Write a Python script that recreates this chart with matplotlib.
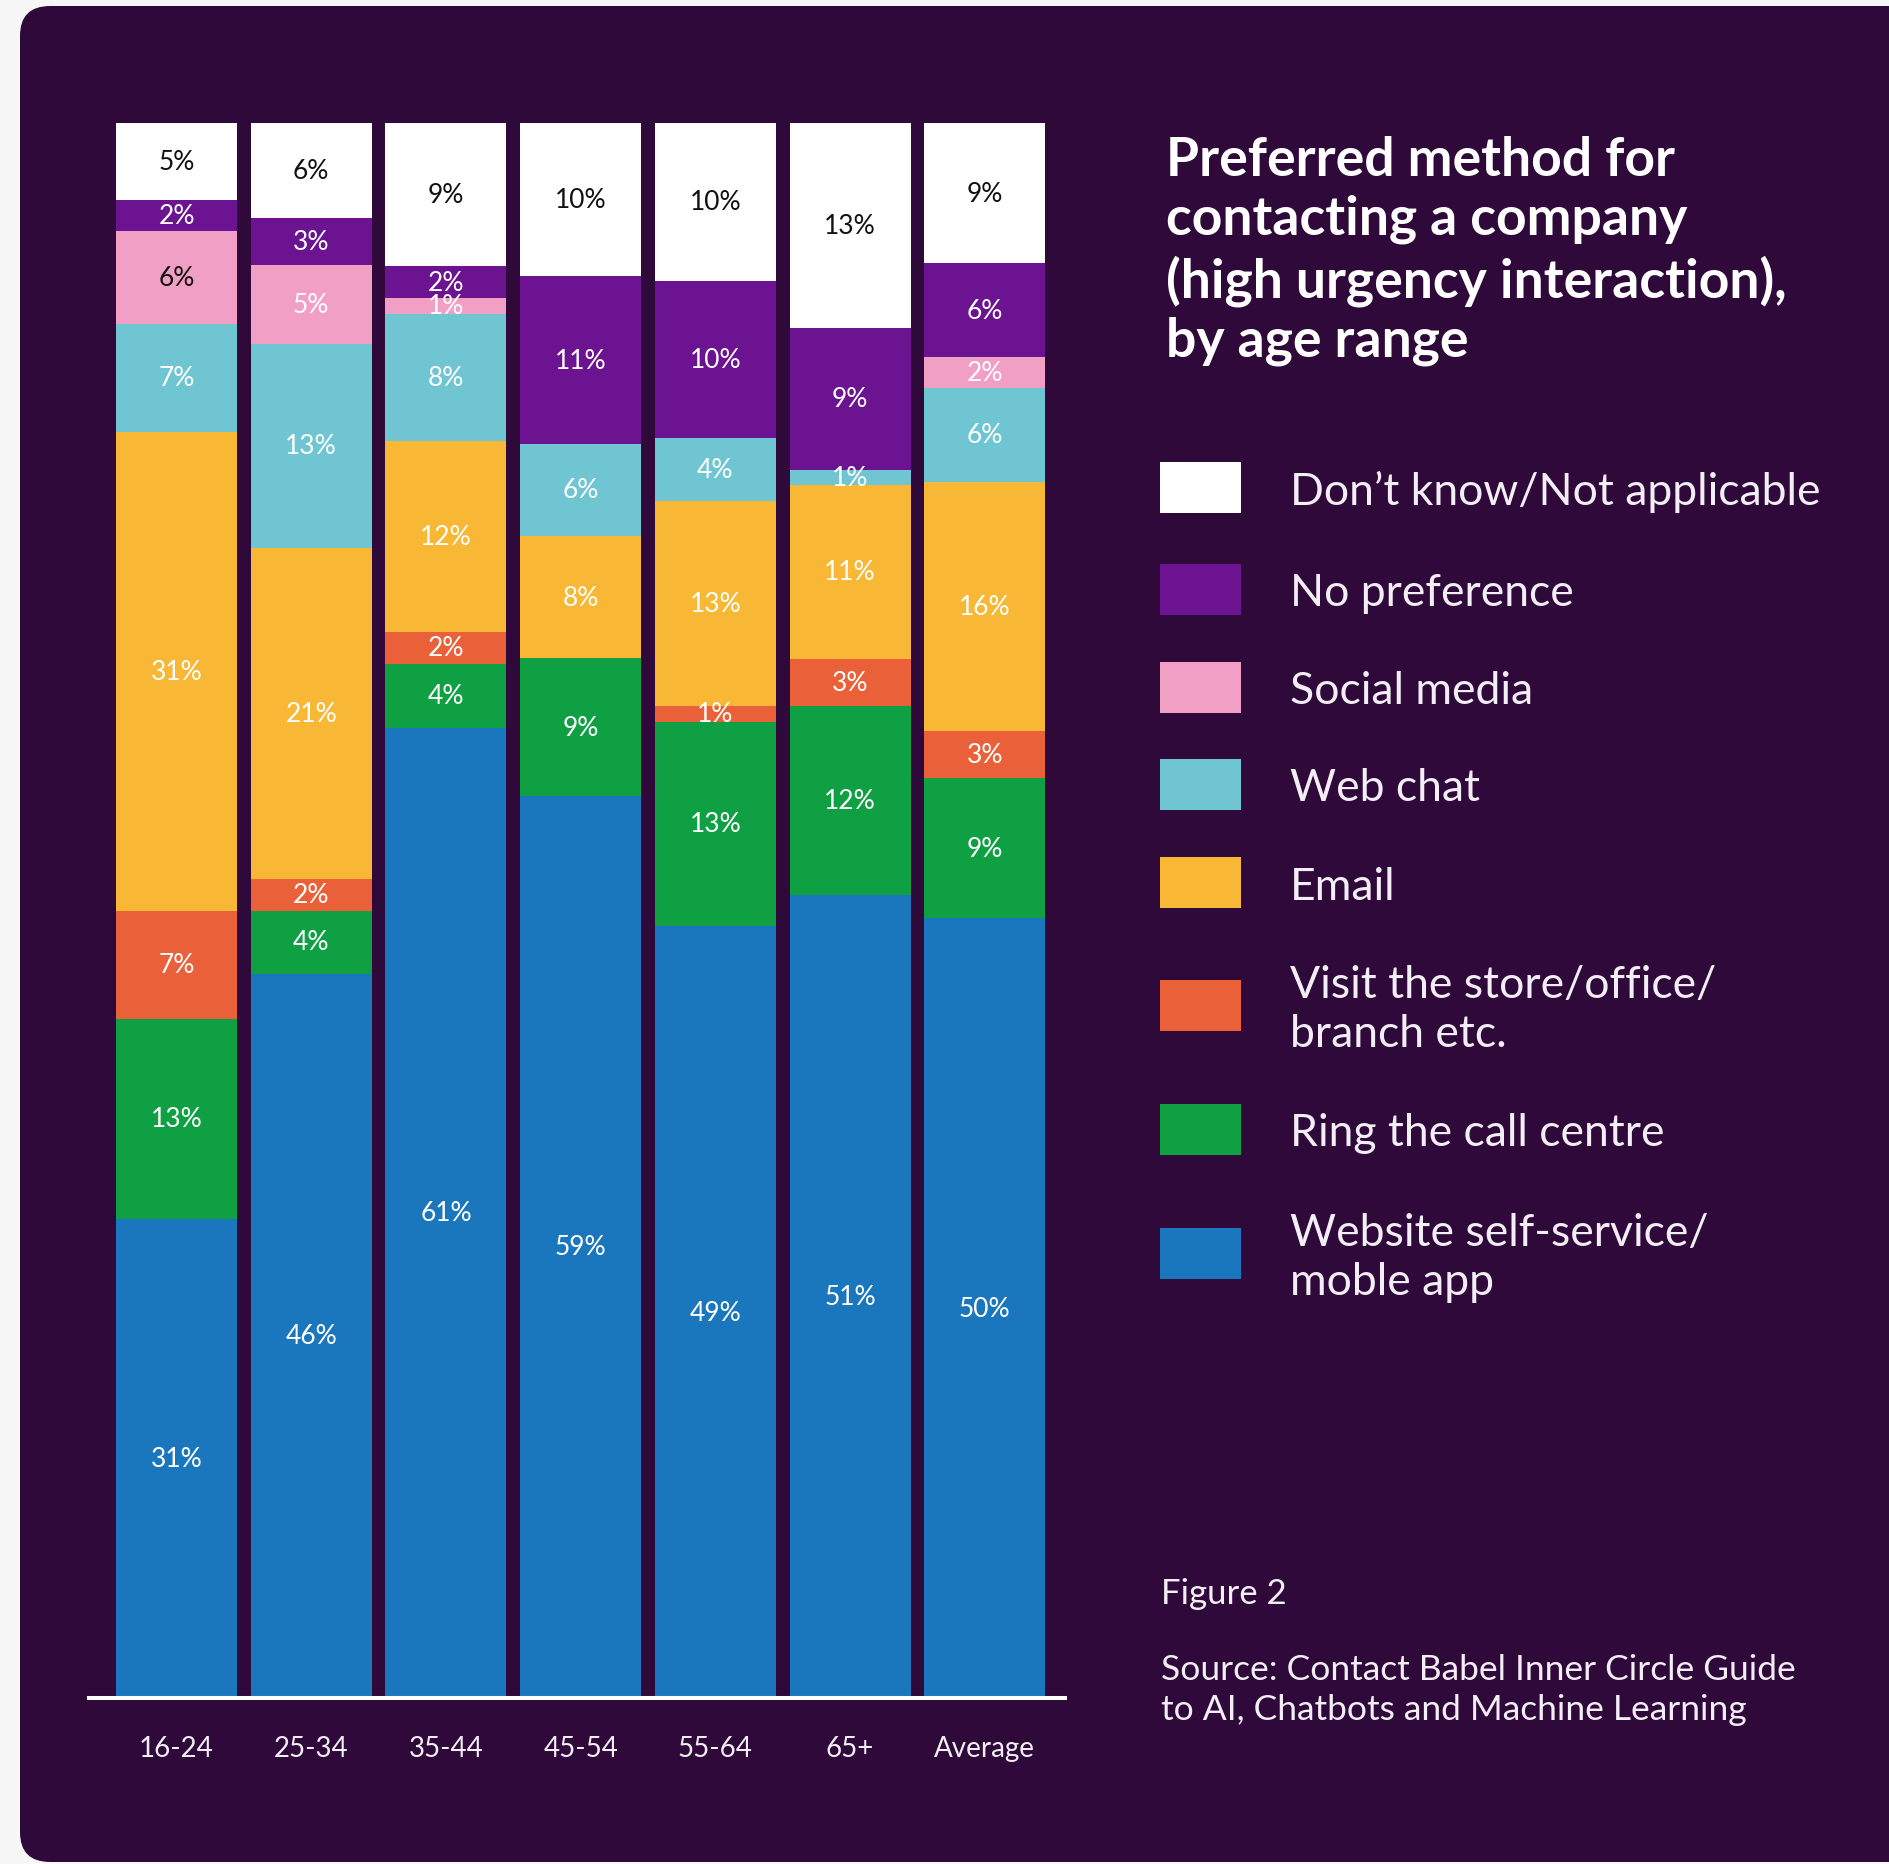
import matplotlib
matplotlib.use("Agg")
import matplotlib.pyplot as plt
from matplotlib.patches import FancyBboxPatch, Rectangle
import numpy as np

plt.rcParams['font.family'] = ['Lato', 'DejaVu Sans']

categories = ['16-24', '25-34', '35-44', '45-54', '55-64', '65+', 'Average']
series_names = ['Website self-service/\nmoble app', 'Ring the call centre',
                'Visit the store/office/\nbranch etc.', 'Email', 'Web chat',
                'Social media', 'No preference', 'Don\u2019t know/Not applicable']
website = [31, 46, 61, 59, 49, 51, 50]
call_centre = [13, 4, 4, 9, 13, 12, 9]
visit_store = [7, 2, 2, 0, 1, 3, 3]
email = [31, 21, 12, 8, 13, 11, 16]
web_chat = [7, 13, 8, 6, 4, 1, 6]
social_media = [6, 5, 1, 0, 0, 0, 2]
no_preference = [2, 3, 2, 11, 10, 9, 6]
dont_know = [5, 6, 9, 10, 10, 13, 9]

series_values = [website, call_centre, visit_store, email, web_chat,
                 social_media, no_preference, dont_know]
colors = ['#1b77bd', '#10a044', '#ea6139', '#f8b836', '#70c5d2',
          '#f29fc5', '#6b1391', '#ffffff']
label_colors = ['white', 'white', 'white', 'white', 'white',
                'white', 'white', '#111111']
dark_label_cells = [(5, 0)]  # (series index, category index) labelled in dark text

BG = '#2e0939'
TXT = '#f3eef5'

W, H = 1889, 1865
fig = plt.figure(figsize=(W / 100, H / 100), dpi=100, facecolor='#f7f7f7')

# rounded dark panel
panel = FancyBboxPatch((20 / W, 2 / H), (W + 60) / W, 1856 / H,
                       boxstyle="round,pad=0,rounding_size=0.016",
                       transform=fig.transFigure, facecolor=BG,
                       edgecolor='none', zorder=-5)
fig.patches.append(panel)

# axes
ax_left, ax_right = 89, 1065
ax_top, ax_bot = 124, 1699
ax = fig.add_axes([ax_left / W, (H - ax_bot) / H, (ax_right - ax_left) / W,
                   (ax_bot - ax_top) / H])
ax.set_facecolor('none')
ax.set_zorder(2)

x = np.arange(len(categories))
vals = np.array(series_values, dtype=float)
totals = vals.sum(axis=0)
heights = vals / totals * 100.0

bottom = np.zeros(len(categories))
for si, (h, col) in enumerate(zip(heights, colors)):
    ax.bar(x, h, width=0.898, bottom=bottom, color=col, edgecolor='none', zorder=2)
    for ci in range(len(categories)):
        v = vals[si, ci]
        if v > 0:
            tc = label_colors[si]
            if (si, ci) in dark_label_cells:
                tc = '#111111'
            ax.text(x[ci], bottom[ci] + h[ci] / 2, f'{int(v)}%', ha='center',
                    va='center', fontsize=19, color=tc, zorder=3)
    bottom += h

ax.set_xlim(-0.65, 6.596)
ax.set_ylim(0, 100)
for s in ['top', 'right', 'left']:
    ax.spines[s].set_visible(False)
ax.spines['bottom'].set_color('white')
ax.spines['bottom'].set_linewidth(2.9)
ax.spines['bottom'].set_zorder(4)
ax.set_yticks([])
ax.set_xticks(x)
ax.set_xticklabels(categories, fontsize=20, color=TXT)
ax.tick_params(axis='x', length=0, pad=27)

# title
fig.text(1166 / W, 1 - 136 / H,
         'Preferred method for\ncontacting a company\n(high urgency interaction),\nby age range',
         fontsize=38.5, fontweight='bold', color='white', ha='left', va='top',
         linespacing=1.25)

# legend (top to bottom)
leg_y = [488, 590, 688, 785, 883, 1006, 1130, 1254]
order = list(range(len(series_names)))[::-1]
for yy, si in zip(leg_y, order):
    fig.patches.append(Rectangle((1160 / W, 1 - (yy + 25.5) / H), 81 / W, 51 / H,
                                 transform=fig.transFigure,
                                 facecolor=colors[si], edgecolor='none'))
    fig.text(1290 / W, 1 - (yy + 4) / H, series_names[si], fontsize=32, color=TXT,
             ha='left', va='center', linespacing=1.25)

fig.text(1161 / W, 1 - 1594 / H, 'Figure 2', fontsize=25, color=TXT,
         ha='left', va='center')
fig.text(1161 / W, 1 - 1690 / H,
         'Source: Contact Babel Inner Circle Guide\nto AI, Chatbots and Machine Learning',
         fontsize=25.5, color=TXT, ha='left', va='center', linespacing=1.3)

fig.savefig('out.png', dpi=100, facecolor=fig.get_facecolor())
